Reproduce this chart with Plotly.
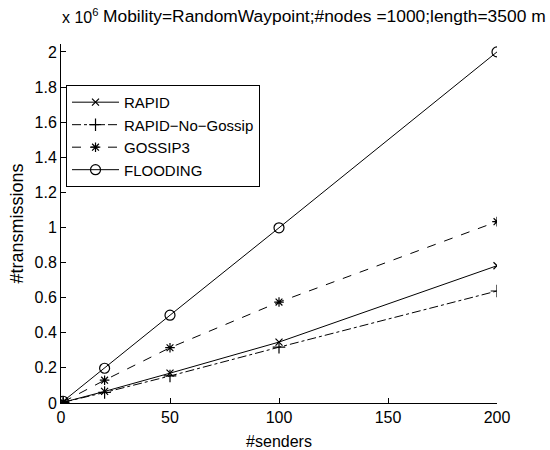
import plotly.graph_objects as go

senders = [1, 20, 50, 100, 200]
rapid = [0.004, 0.066, 0.170, 0.347, 0.782]
rapid_no_gossip = [0.004, 0.060, 0.154, 0.318, 0.638]
gossip3 = [0.006, 0.130, 0.315, 0.575, 1.033]
flooding = [0.010, 0.198, 0.500, 0.998, 2.000]

series_names = ["RAPID", "RAPID\u2212No\u2212Gossip", "GOSSIP3", "FLOODING"]
series_values = [rapid, rapid_no_gossip, gossip3, flooding]
dashes = ["solid", "dashdot", "dash", "solid"]
symbols = ["x-thin-open", "cross-thin-open", "asterisk-open", "circle-open"]
msizes = [7, 9, 8, 10]

FONT = "Liberation Sans, Arial, sans-serif"

fig = go.Figure()
for name, vals, d, s, ms in zip(series_names, series_values, dashes, symbols, msizes):
    fig.add_trace(go.Scatter(
        x=senders, y=vals, name=name, mode="lines+markers",
        line=dict(color="black", width=1, dash=d),
        marker=dict(symbol=s, size=ms, color="black", line=dict(color="black", width=1.2)),
    ))

axis_common = dict(
    showline=True, linecolor="black", linewidth=1, mirror=False,
    ticks="inside", ticklen=5, tickcolor="black", tickwidth=1,
    showgrid=False, zeroline=False, automargin=False,
    tickfont=dict(family=FONT, size=16, color="black"),
)

fig.update_layout(
    width=550, height=450,
    paper_bgcolor="white", plot_bgcolor="white",
    margin=dict(l=61, r=53, t=44, b=47),
    font=dict(family=FONT, size=16, color="black"),
    xaxis=dict(range=[0, 200], tickvals=[0, 50, 100, 150, 200],
               title=dict(text="#senders", font=dict(size=16), standoff=14), **axis_common),
    yaxis=dict(range=[0, 2.045], tickvals=[0, 0.2, 0.4, 0.6, 0.8, 1, 1.2, 1.4, 1.6, 1.8, 2],
               ticktext=["0", "0.2", "0.4", "0.6", "0.8", "1", "1.2", "1.4", "1.6", "1.8", "2"],
               title=dict(text="#transmissions", font=dict(size=18), standoff=6), **axis_common),
    legend=dict(x=0.0115, y=0.886, xanchor="left", yanchor="top",
                bordercolor="black", borderwidth=1, bgcolor="white",
                font=dict(family=FONT, size=15, color="black"),
                tracegroupgap=0, itemwidth=47),
    showlegend=True,
)

fig.add_annotation(text="Mobility=RandomWaypoint;#nodes =1000;length=3500 m",
                   xref="paper", yref="paper", x=(548 - 61) / 436, y=1 + (44 - 16) / 359,
                   xanchor="right", yanchor="middle", showarrow=False,
                   font=dict(family=FONT, size=17.4, color="black"))
fig.add_annotation(text="x 10<sup>6</sup>",
                   xref="paper", yref="paper", x=-1 / 436, y=1 + (44 - 16) / 359,
                   xanchor="left", yanchor="middle", showarrow=False,
                   font=dict(family=FONT, size=16, color="black"))

fig.write_html("out.html", config={"displayModeBar": False},
               post_script="document.body.style.margin='0';")
